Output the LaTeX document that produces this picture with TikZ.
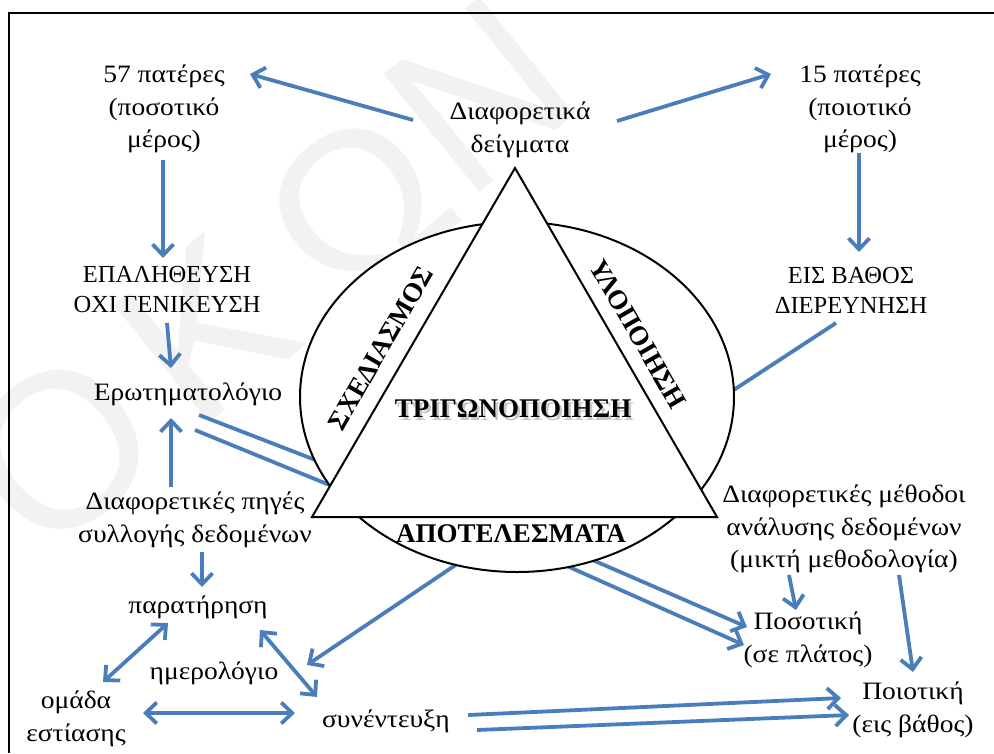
\documentclass[tikz,border=0pt]{standalone}
\usepackage{fontspec}
\setmainfont{Liberation Serif}
\newfontfamily\gw[FakeStretch=1.1]{Liberation Serif}
\newfontfamily\wmfont{Liberation Sans}
\usetikzlibrary{arrows.meta}
\definecolor{arrowblue}{RGB}{74,126,187}
\begin{document}
\begin{tikzpicture}[x=1pt,y=-1pt,
  conn/.style={draw=arrowblue, line width=3.8pt},
  arr/.style={conn, -{Straight Barb[length=11pt,width=21pt]}},
  darr/.style={conn, {Straight Barb[length=11pt,width=21pt]}-{Straight Barb[length=11pt,width=21pt]}},
  lbl/.style={font=\gw\fontsize{25}{32.5}\selectfont, align=center, inner sep=0pt},
  capl/.style={font=\fontsize{24.5}{30}\selectfont, align=center, inner sep=0pt},
  bl/.style={font=\fontsize{27}{30}\selectfont\bfseries, inner sep=0pt},
  wm/.style={font=\wmfont\fontsize{220}{220}\selectfont, text=black!5, rotate=39, inner sep=0pt},
  shapeline/.style={line width=2pt, draw=black, fill=white},
]
\useasboundingbox (0,0) rectangle (994,753);
\fill[white] (0,0) rectangle (994,753);
% watermark
\node[wm] (w1) at (60,450) {Ο};
\node[wm] (w2) at (205,330) {Κ};
\node[wm] (w3) at (357,207) {Ω};
\node[wm] (w4) at (480,95) {Ν};
% frame
\draw[line width=1.8pt] (994,13) -- (9,13) -- (9,753);

% text nodes
\node[lbl] (p57) at (164,109) {57 πατέρες\\(ποσοτικό\\μέρος)};
\node[lbl] (dd) at (520,130) {Διαφορετικά\\δείγματα};
\node[lbl] (p15) at (860,109) {15 πατέρες\\(ποιοτικό\\μέρος)};
\node[capl] (epal) at (167,290) {ΕΠΑΛΗΘΕΥΣΗ\\ΟΧΙ ΓΕΝΙΚΕΥΣΗ};
\node[capl] (eis) at (851,290) {ΕΙΣ ΒΑΘΟΣ\\ΔΙΕΡΕΥΝΗΣΗ};
\node[lbl] (erot) at (188,394) {Ερωτηματολόγιο};
\node[lbl] (pig) at (195,520) {Διαφορετικές πηγές\\συλλογής δεδομένων};
\node[lbl] (par) at (198,607) {παρατήρηση};
\node[lbl] (imer) at (214,673) {ημερολόγιο};
\node[lbl] (omad) at (76,719) {ομάδα\\εστίασης};
\node[lbl] (syn) at (386,721) {συνέντευξη};
\node[lbl] (meth) at (844,529) {Διαφορετικές μέθοδοι\\ανάλυσης δεδομένων\\(μικτή μεθοδολογία)};
\node[lbl] (pos) at (808,640) {Ποσοτική\\(σε πλάτος)};
\node[lbl] (poi) at (913,710) {Ποιοτική\\(εις βάθος)};

% connector end points
\coordinate (g1a) at (199,415); \coordinate (g1b) at (318,461);
\coordinate (g2a) at (195,430); \coordinate (g2b) at (332,486);
\coordinate (ma) at (836,323);  \coordinate (mb) at (726,395);
\coordinate (la) at (463,560);  \coordinate (lb) at (307,665);
\coordinate (n1a) at (588,558); \coordinate (n1b) at (747,627);
\coordinate (n2a) at (558,562); \coordinate (n2b) at (744,645);

% connectors that meet the ellipse (drawn underneath it)
\draw[conn] (g1a) -- (g1b);
\draw[conn] (g2a) -- (g2b);
\draw[conn] (ma) -- (mb);
\draw[arr] (la) -- (lb);
\draw[arr] (n1a) -- (n1b);
\draw[arr] (n2a) -- (n2b);

% ellipse and triangle
\draw[shapeline] (517,397) ellipse [x radius=217, y radius=175];
\draw[shapeline, line join=miter] (515,168) -- (312,517) -- (717,517) -- cycle;

\node[bl, rotate=60] (sxed) at (381,348) {ΣΧΕΔΙΑΣΜΟΣ};
\node[bl, rotate=-60] (ylo) at (638,334) {ΥΛΟΠΟΙΗΣΗ};
\node[bl, text=black!22] (trigsh) at (515.5,411.5) {ΤΡΙΓΩΝΟΠΟΙΗΣΗ};
\node[bl] (trig) at (513,409) {ΤΡΙΓΩΝΟΠΟΙΗΣΗ};
\node[bl] (apot) at (511,534) {ΑΠΟΤΕΛΕΣΜΑΤΑ};

% other connectors
\coordinate (aa) at (413,120); \coordinate (ab) at (250,74);
\coordinate (ba) at (617,121); \coordinate (bb) at (771,74);
\coordinate (ca) at (163,160); \coordinate (cb) at (163,258);
\coordinate (da) at (859,153); \coordinate (db) at (859,252);
\coordinate (ea) at (167,323); \coordinate (eb) at (171,368);
\coordinate (fa) at (171,487); \coordinate (fb) at (171,418);
\coordinate (ha) at (202,552); \coordinate (hb) at (202,587);
\coordinate (ia) at (168,623); \coordinate (ib) at (103,682);
\coordinate (ja) at (260,630); \coordinate (jb) at (317,697);
\coordinate (ka) at (143,713); \coordinate (kb) at (295,713);
\coordinate (oa) at (789,575); \coordinate (ob) at (796,610);
\coordinate (pa) at (899,575); \coordinate (pb) at (913,672);
\coordinate (q1a) at (468,715); \coordinate (q1b) at (841,698);
\coordinate (q2a) at (477,730); \coordinate (q2b) at (849,715);

\draw[arr] (aa) -- (ab);
\draw[arr] (ba) -- (bb);
\draw[arr] (ca) -- (cb);
\draw[arr] (da) -- (db);
\draw[arr] (ea) -- (eb);
\draw[arr] (fa) -- (fb);
\draw[arr] (ha) -- (hb);
\draw[darr] (ia) -- (ib);
\draw[darr] (ja) -- (jb);
\draw[darr] (ka) -- (kb);
\draw[arr] (oa) -- (ob);
\draw[arr] (pa) -- (pb);
\draw[arr] (q1a) -- (q1b);
\draw[arr] (q2a) -- (q2b);
\end{tikzpicture}
\end{document}
